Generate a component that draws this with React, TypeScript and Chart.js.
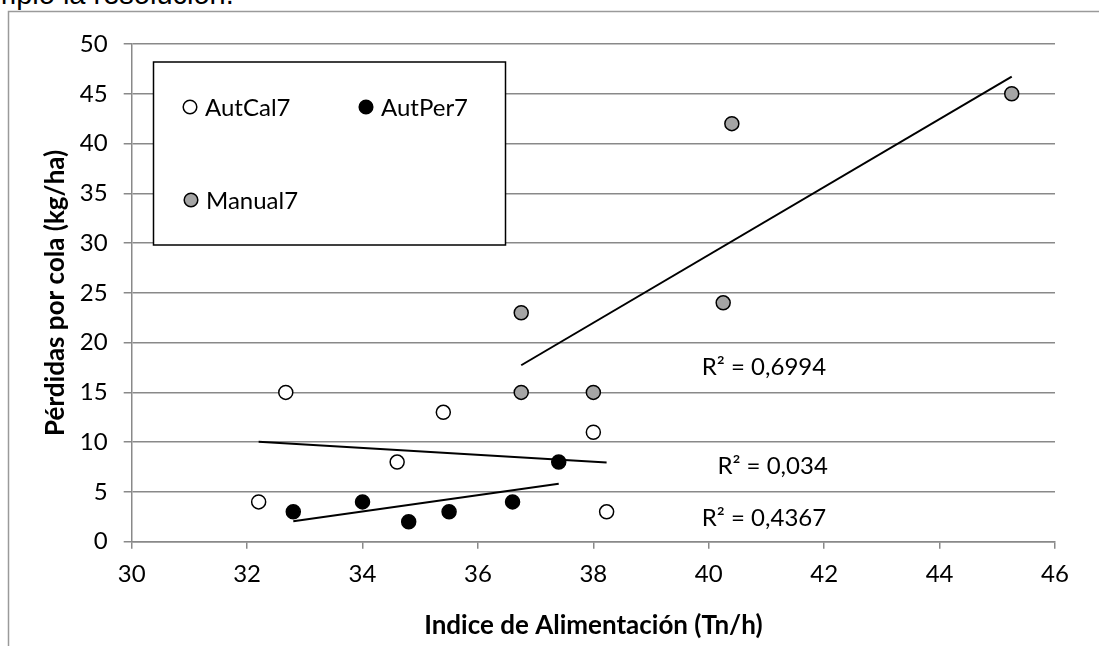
import React, { useEffect, useRef } from 'react';
import { Chart, registerables } from 'chart.js';

Chart.register(...registerables);

// ---- data ----
const seriesNames = ['AutCal7', 'AutPer7', 'Manual7'];
const autCalX = [32.2, 32.67, 34.6, 35.4, 38.0, 38.23];
const autCalY = [4, 15, 8, 13, 11, 3];
const autPerX = [32.8, 34.0, 34.8, 35.5, 36.6, 37.4];
const autPerY = [3, 4, 2, 3, 4, 8];
const manualX = [36.75, 36.75, 38.0, 40.25, 40.4, 45.25];
const manualY = [23, 15, 15, 24, 42, 45];
const r2Labels = ['R² = 0,034', 'R² = 0,4367', 'R² = 0,6994'];
const xTickValues = [30, 32, 34, 36, 38, 40, 42, 44, 46];
const yTickValues = [0, 5, 10, 15, 20, 25, 30, 35, 40, 45, 50];
const xTitle = 'Indice de Alimentación (Tn/h)';
const yTitle = 'Pérdidas por cola (kg/ha)';
const clippedText = 'mplo la resolución.';

const FONT = 'Lato';
const GRID = '#898989';
const TXT = 24;

function toPoints(xs: number[], ys: number[]) {
  return xs.map((x, i) => ({ x, y: ys[i] }));
}

function trend(xs: number[], ys: number[]) {
  const n = xs.length;
  const mx = xs.reduce((a, b) => a + b, 0) / n;
  const my = ys.reduce((a, b) => a + b, 0) / n;
  let sxy = 0, sxx = 0;
  for (let i = 0; i < n; i++) {
    sxy += (xs[i] - mx) * (ys[i] - my);
    sxx += (xs[i] - mx) * (xs[i] - mx);
  }
  const b = sxy / sxx;
  const a = my - b * mx;
  const x0 = Math.min(...xs);
  const x1 = Math.max(...xs);
  return [{ x: x0, y: a + b * x0 }, { x: x1, y: a + b * x1 }];
}

const framePlugin = {
  id: 'frame',
  beforeDraw(chart: any) {
    const ctx = chart.ctx;
    ctx.save();
    ctx.strokeStyle = '#9a9a9a';
    ctx.lineWidth = 1.5;
    ctx.beginPath();
    ctx.moveTo(8.5, 646);
    ctx.lineTo(8.5, 11.5);
    ctx.lineTo(1099, 11.5);
    ctx.stroke();
    ctx.restore();
  },
};

const legendPlugin = {
  id: 'boxLegend',
  afterDatasetsDraw(chart: any) {
    const ctx = chart.ctx;
    const ds = chart.data.datasets;
    ctx.save();
    ctx.fillStyle = '#ffffff';
    ctx.strokeStyle = '#000000';
    ctx.lineWidth = 1.5;
    ctx.fillRect(153.5, 62, 352, 183);
    ctx.strokeRect(153.5, 62, 352, 183);
    const spots = [
      [190, 107],
      [366, 107],
      [191, 200],
    ];
    ctx.font = `${TXT}px ${FONT}`;
    ctx.textBaseline = 'middle';
    ctx.textAlign = 'left';
    for (let i = 0; i < 3; i++) {
      const [cx, cy] = spots[i];
      ctx.beginPath();
      ctx.arc(cx, cy, 6.8, 0, Math.PI * 2);
      ctx.fillStyle = ds[i].backgroundColor;
      ctx.fill();
      ctx.lineWidth = 1.5;
      ctx.strokeStyle = '#000';
      ctx.stroke();
      ctx.fillStyle = '#000';
      ctx.fillText(seriesNames[i], cx + 15, cy + 1);
    }
    ctx.restore();
  },
};

const r2Plugin = {
  id: 'r2',
  afterDatasetsDraw(chart: any) {
    const ctx = chart.ctx;
    const xs = chart.scales.x;
    const ys = chart.scales.y;
    const anchors = [
      [40.15, 7.7],
      [39.88, 2.5],
      [39.88, 17.6],
    ];
    ctx.save();
    ctx.font = `${TXT}px ${FONT}`;
    ctx.fillStyle = '#000';
    ctx.textBaseline = 'middle';
    ctx.textAlign = 'left';
    for (let i = 0; i < 3; i++) {
      ctx.fillText(r2Labels[i], xs.getPixelForValue(anchors[i][0]), ys.getPixelForValue(anchors[i][1]) + 1);
    }
    ctx.restore();
  },
};

export default function App() {
  const ref = useRef<HTMLCanvasElement>(null);
  useEffect(() => {
    if (!ref.current) return;
    Chart.defaults.font.family = FONT;
    const pointStyle = {
      pointRadius: 7,
      pointHoverRadius: 7,
      pointBorderWidth: 1.5,
      borderColor: '#000000',
      showLine: false,
      order: 2,
    };
    const lineStyle = {
      showLine: true,
      pointRadius: 0,
      pointHoverRadius: 0,
      borderColor: '#000000',
      borderWidth: 2,
      fill: false,
      order: 1,
    };
    const chart = new Chart(ref.current, {
      type: 'scatter',
      data: {
        datasets: [
          { label: seriesNames[0], data: toPoints(autCalX, autCalY), backgroundColor: '#ffffff', pointBackgroundColor: '#ffffff', ...pointStyle },
          { label: seriesNames[1], data: toPoints(autPerX, autPerY), backgroundColor: '#000000', pointBackgroundColor: '#000000', ...pointStyle },
          { label: seriesNames[2], data: toPoints(manualX, manualY), backgroundColor: '#a5a5a5', pointBackgroundColor: '#a5a5a5', ...pointStyle },
          { label: 'trendCal', data: trend(autCalX, autCalY), ...lineStyle },
          { label: 'trendPer', data: trend(autPerX, autPerY), ...lineStyle },
          { label: 'trendMan', data: trend(manualX, manualY), ...lineStyle },
        ] as any,
      },
      options: {
        animation: false,
        responsive: false,
        devicePixelRatio: 1,
        layout: { padding: { left: 0, top: 44, right: 44, bottom: 0 } },
        plugins: {
          legend: { display: false },
          tooltip: { enabled: false },
        },
        scales: {
          x: {
            type: 'linear',
            min: 30,
            max: 46,
            afterBuildTicks: (s: any) => { s.ticks = xTickValues.map((v) => ({ value: v })); },
            afterFit: (s: any) => { s.height = 104.3; },
            ticks: { color: '#000', font: { family: FONT, size: TXT }, padding: 11, maxRotation: 0, autoSkip: false },
            grid: { drawOnChartArea: false, drawTicks: true, tickLength: 7, color: GRID, lineWidth: 1.5 },
            border: { color: GRID, width: 1.5 },
            title: { display: true, text: xTitle, color: '#000', font: { family: FONT, size: 26, weight: 'bold' }, padding: { top: 0, bottom: 5 } },
          },
          y: {
            type: 'linear',
            min: 0,
            max: 50,
            afterBuildTicks: (s: any) => { s.ticks = yTickValues.map((v) => ({ value: v })); },
            afterFit: (s: any) => { s.width = 131.7; },
            ticks: { color: '#000', font: { family: FONT, size: TXT }, padding: 16, autoSkip: false },
            grid: { drawTicks: true, tickLength: 8, color: GRID, lineWidth: 1.5 },
            border: { color: GRID, width: 1.5 },
            title: { display: true, text: yTitle, color: '#000', font: { family: FONT, size: 26, weight: 'bold' }, padding: { top: 40, bottom: 0 } },
          },
        },
      } as any,
      plugins: [framePlugin, legendPlugin, r2Plugin],
    });
    return () => chart.destroy();
  }, []);

  return (
    <div style={{ position: 'fixed', left: 0, top: 0, width: 1099, height: 646, background: '#fff', overflow: 'hidden' }}>
      <div
        style={{
          position: 'absolute',
          left: -8,
          top: -20.5,
          fontFamily: '"Liberation Sans", Arial, sans-serif',
          fontSize: 29,
          lineHeight: '29px',
          whiteSpace: 'nowrap',
          color: '#000',
        }}
      >
        {clippedText}
      </div>
      <canvas ref={ref} width={1099} height={646} style={{ position: 'absolute', left: 0, top: 0 }} />
    </div>
  );
}
